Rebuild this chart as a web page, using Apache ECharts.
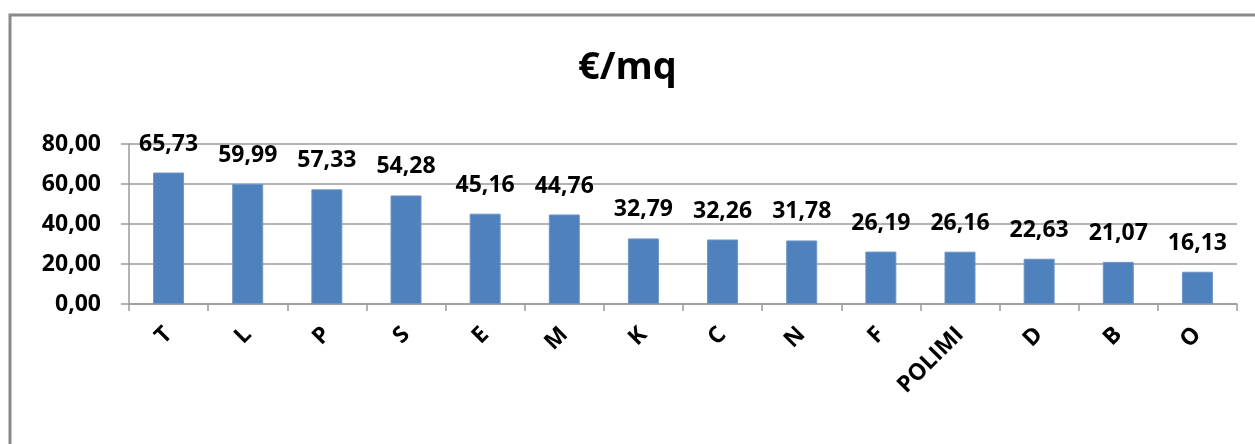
<!DOCTYPE html>
<html>
<head>
<meta charset="utf-8">
<style>
  html, body { margin: 0; padding: 0; background: #fff; }
  #chart { width: 1255px; height: 444px; }
</style>
<script src="https://cdn.jsdelivr.net/npm/echarts@6/dist/echarts.min.js"></script>
</head>
<body>
<div id="chart"></div>
<script>
// Cost per square metre by site
const categories = ['T', 'L', 'P', 'S', 'E', 'M', 'K', 'C', 'N', 'F', 'POLIMI', 'D', 'B', 'O'];
const values = [65.73, 59.99, 57.33, 54.28, 45.16, 44.76, 32.79, 32.26, 31.78, 26.19, 26.16, 22.63, 21.07, 16.13];
const yTicks = [0, 20, 40, 60, 80];

const FONT = '"Open Sans", "DejaVu Sans", sans-serif';
const fmt = v => Number(v).toFixed(2).replace('.', ',');

const chart = echarts.init(document.getElementById('chart'), null, { renderer: 'canvas' });

chart.setOption({
  backgroundColor: '#ffffff',
  animation: false,
  title: {
    text: '€/mq',
    left: 'center',
    top: 44,
    textStyle: { fontFamily: FONT, fontSize: 38, fontWeight: 'bold', color: '#000' }
  },
  graphic: [{
    type: 'rect',
    shape: { x: 10, y: 15, width: 1300, height: 500 },
    style: { fill: 'none', stroke: '#8a8a8a', lineWidth: 3 },
    silent: true,
    z: 100
  }],
  grid: { left: 129, right: 18, top: 144, bottom: 140, containLabel: false },
  xAxis: {
    type: 'category',
    data: categories,
    axisLine: { show: true, lineStyle: { color: '#9a9a9a', width: 1.5 } },
    axisTick: { show: true, alignWithLabel: false, length: 7, lineStyle: { color: '#9a9a9a', width: 1.5 } },
    axisLabel: {
      rotate: 45,
      margin: 27,
      interval: 0,
      fontFamily: FONT,
      fontSize: 23,
      fontWeight: 'bold',
      color: '#000'
    }
  },
  yAxis: {
    type: 'value',
    min: yTicks[0],
    max: yTicks[yTicks.length - 1],
    interval: yTicks[1] - yTicks[0],
    axisLine: { show: true, lineStyle: { color: '#9a9a9a', width: 1.5 } },
    axisTick: { show: true, length: 8, lineStyle: { color: '#9a9a9a', width: 1.5 } },
    splitLine: { show: true, lineStyle: { color: '#9a9a9a', width: 1.5 } },
    axisLabel: {
      margin: 28,
      fontFamily: FONT,
      fontSize: 23,
      fontWeight: 'bold',
      color: '#000',
      formatter: v => fmt(v)
    }
  },
  series: [{
    type: 'bar',
    data: values,
    barWidth: 31,
    itemStyle: { color: '#4f81bd', borderColor: '#6d95c8', borderWidth: 1 },
    label: {
      show: true,
      position: 'top',
      distance: 17,
      fontFamily: FONT,
      fontSize: 23,
      fontWeight: 'bold',
      color: '#000',
      formatter: p => fmt(p.value)
    }
  }]
});
</script>
</body>
</html>
